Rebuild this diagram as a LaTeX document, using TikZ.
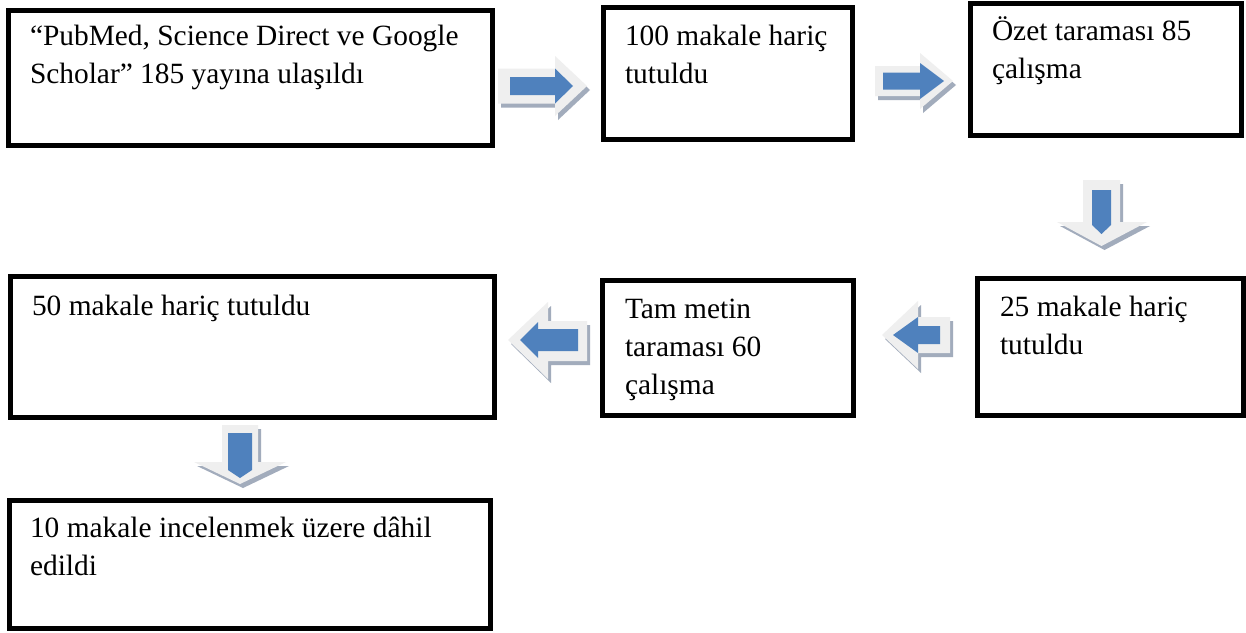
\documentclass[tikz,border=0pt]{standalone}
\usepackage{fontspec}
\setmainfont{Liberation Serif}
\usetikzlibrary{calc}
\definecolor{arrowblue}{HTML}{4F81BD}
\definecolor{arrowlight}{HTML}{EFEFEF}
\definecolor{arrowshadow}{HTML}{A2ACBC}
\tikzset{
  box/.style={draw=black, line width=5pt, outer sep=0pt, inner sep=0pt, fill=white},
  txt/.style={anchor=north west, inner sep=0pt, outer sep=0pt, align=left,
              font=\fontsize{29.4}{38}\selectfont},
  arrowface/.style={fill=arrowblue},
  arrowbevel/.style={fill=arrowlight},
  arrowshade/.style={fill=arrowshadow, shift={(3,4)}},
}
\newcommand{\blockarrow}[2]{%
  \fill[arrowshade] #1 -- cycle;
  \fill[arrowbevel] #1 -- cycle;
  \fill[arrowface] #2 -- cycle;}
\begin{document}
\begin{tikzpicture}[x=1pt,y=-1pt]
\useasboundingbox[fill=white] (0,0) rectangle (1246,632);

% boxes
\node[box, minimum width=484pt, minimum height=135pt] (b1) at (250,77.5) {};
\node[box, minimum width=249pt, minimum height=132pt] (b2) at (727.5,73) {};
\node[box, minimum width=271pt, minimum height=132pt] (b3) at (1105.5,69) {};
\node[box, minimum width=266pt, minimum height=137pt] (b4) at (1110,346.5) {};
\node[box, minimum width=251pt, minimum height=135pt] (b5) at (727.5,347.5) {};
\node[box, minimum width=484pt, minimum height=141pt] (b6) at (252,346.5) {};
\node[box, minimum width=481pt, minimum height=128pt] (b7) at (249.5,564) {};

% texts (position = first baseline - 26.6)
\node[txt] (t1) at (30,18.9) {\strut“PubMed, Science Direct ve Google\\Scholar” 185 yayına ulaşıldı};
\node[txt] (t2) at (625,18.9) {\strut100 makale hariç\\tutuldu};
\node[txt] (t3) at (992,13.4) {\strut Özet taraması 85\\çalışma};
\node[txt] (t4) at (1000,289.4) {\strut25 makale hariç\\tutuldu};
\node[txt] (t5) at (625,291.4) {\strut Tam metin\\taraması 60\\çalışma};
\node[txt] (t6) at (32,288.4) {\strut50 makale hariç tutuldu};
\node[txt] (t7) at (30,510.4) {\strut10 makale incelenmek üzere dâhil\\edildi};

% block arrows
% b1 -> b2
\blockarrow{(498,68.5) -- (555,68.5) -- (555,56) -- (587,86) -- (555,116) -- (555,103.5) -- (498,103.5)}
           {(510,77) -- (555,77) -- (555,68.5) -- (573,86) -- (555,103.5) -- (555,95) -- (510,95)}
% b2 -> b3
\blockarrow{(875,66) -- (920,66) -- (920,53) -- (953,81) -- (920,109) -- (920,96) -- (875,96)}
           {(883,72.5) -- (920,72.5) -- (920,63) -- (944,81) -- (920,99) -- (920,89.5) -- (883,89.5)}
% b3 -> b4
\blockarrow{(1083,180) -- (1120,180) -- (1120,222) -- (1147,222) -- (1101.5,246) -- (1057,222) -- (1083,222)}
           {(1092,190) -- (1111,190) -- (1111,225) -- (1101.5,234) -- (1092,225)}
% b4 -> b5
\blockarrow{(882,335) -- (918,301) -- (918,317) -- (950,317) -- (950,353) -- (918,353) -- (918,369)}
           {(893,335) -- (918,317) -- (918,326) -- (940,326) -- (940,344) -- (918,344) -- (918,353)}
% b5 -> b6
\blockarrow{(508,340) -- (548,302) -- (548,321) -- (587,321) -- (587,361) -- (548,361) -- (548,379)}
           {(520,340) -- (538,322) -- (538,329) -- (578,329) -- (578,351) -- (538,351) -- (538,358)}
% b6 -> b7
\blockarrow{(222,425) -- (258,425) -- (258,462) -- (286,462) -- (240,484) -- (194,462) -- (222,462)}
           {(228,433) -- (252,433) -- (252,470) -- (240,478) -- (228,470)}
\end{tikzpicture}
\end{document}
